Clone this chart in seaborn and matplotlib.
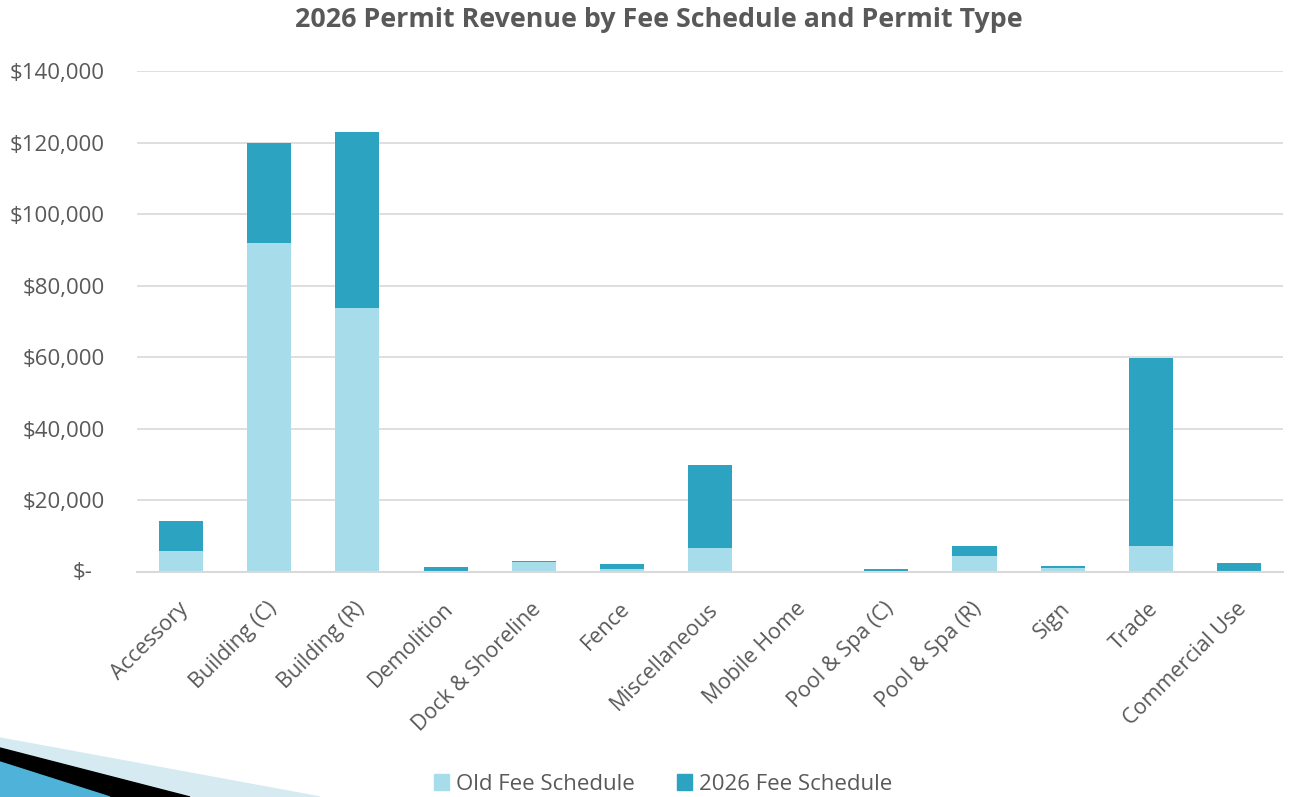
import matplotlib
matplotlib.use("Agg")
import matplotlib.pyplot as plt
import matplotlib.patches as mpatches
import matplotlib.transforms as mtransforms
from matplotlib.ticker import FuncFormatter, FixedLocator
import seaborn as sns
import pandas as pd

# values
categories = ["Accessory", "Building (C)", "Building (R)", "Demolition", "Dock & Shoreline",
              "Fence", "Miscellaneous", "Mobile Home", "Pool & Spa (C)", "Pool & Spa (R)",
              "Sign", "Trade", "Commercial Use"]
old_fee = [5900, 91900, 73800, 100, 2800, 850, 6700, 150, 100, 4500, 1100, 7300, 0]
new_fee = [8400, 28000, 49100, 1300, 300, 1400, 23200, 250, 800, 2800, 600, 52500, 2500]

LIGHT = "#A7DDEA"
DARK = "#2CA3C1"
TEXT = "#595959"

df = pd.DataFrame({"category": categories, "old": old_fee, "new": new_fee})
df["total"] = df["old"] + df["new"]

sns.set_style("white")
plt.rcParams["font.family"] = ["Open Sans", "DejaVu Sans"]

fig = plt.figure(figsize=(12.91, 7.97), dpi=100)
ax = fig.add_axes([137 / 1291, 1 - 572 / 797, (1283 - 137) / 1291, (572 - 71) / 797])

# stacked look: full total in dark, old part drawn over it in light
sns.barplot(data=df, x="category", y="total", color=DARK, width=0.5, ax=ax,
            saturation=1, linewidth=0)
sns.barplot(data=df, x="category", y="old", color=LIGHT, width=0.5, ax=ax,
            saturation=1, linewidth=0)

ax.set_ylim(0, 140000)
ax.set_xlim(-0.5, len(categories) - 0.5)
ax.set_yticks(range(0, 140001, 20000))
ax.yaxis.set_major_formatter(FuncFormatter(lambda v, p: "" if v == 0 else f"${v:,.0f}"))
ax.grid(axis="y", color="#D9D9D9", linewidth=1.2)
ax.set_axisbelow(True)
for s in ["top", "right", "left"]:
    ax.spines[s].set_visible(False)
ax.spines["bottom"].set_color("#D9D9D9")
ax.spines["bottom"].set_linewidth(1.5)

ax.set_xlabel("")
ax.set_ylabel("")
ax.tick_params(axis="y", length=0, labelsize=16, labelcolor=TEXT, pad=23)
ax.tick_params(axis="x", which="major", length=0, labelsize=15.5, labelcolor=TEXT, pad=19)
ax.xaxis.set_minor_locator(FixedLocator([i - 0.5 for i in range(len(categories) + 1)]))
ax.tick_params(axis="x", which="minor", length=7, width=1.5, color="#D9D9D9")
shift = mtransforms.ScaledTranslation(-3 / 100, 0, fig.dpi_scale_trans)
for lbl in ax.get_xticklabels():
    lbl.set_rotation(45)
    lbl.set_horizontalalignment("right")
    lbl.set_rotation_mode("anchor")
    lbl.set_transform(lbl.get_transform() + shift)

# accounting style zero: "$-" padded away from the axis like Excel does
ax.text(-45 / 1146, 0, "$-", transform=ax.get_yaxis_transform(), ha="right", va="center",
        fontsize=16, color=TEXT)

fig.text(659 / 1291, 1 - 20 / 797, "2026 Permit Revenue by Fee Schedule and Permit Type",
         ha="center", va="center", fontsize=19.3, fontweight="bold", color=TEXT)

handles = [mpatches.Patch(color=LIGHT, label="Old Fee Schedule"),
           mpatches.Patch(color=DARK, label="2026 Fee Schedule")]
fig.legend(handles=handles, loc="center", bbox_to_anchor=(663 / 1291, 1 - 784 / 797), ncol=2,
           frameon=False, fontsize=16, labelcolor=TEXT, handlelength=0.7, handleheight=0.7,
           handletextpad=0.3, columnspacing=1.9)

# slide decoration in the lower-left corner
W, H = 1291, 797
def px(pts):
    return [(x / W, 1 - y / H) for x, y in pts]
fig.patches.append(mpatches.Polygon(px([(0, 738), (320, 797), (0, 797)]), closed=True,
                                    color="#D6EAF1", transform=fig.transFigure, zorder=0))
fig.patches.append(mpatches.Polygon(px([(0, 748), (190, 797), (0, 797)]), closed=True,
                                    color="black", transform=fig.transFigure, zorder=0))
fig.patches.append(mpatches.Polygon(px([(0, 762), (110, 797), (0, 797)]), closed=True,
                                    color="#4FB3D9", transform=fig.transFigure, zorder=0))

fig.savefig("out.png", dpi=100)
plt.close(fig)
